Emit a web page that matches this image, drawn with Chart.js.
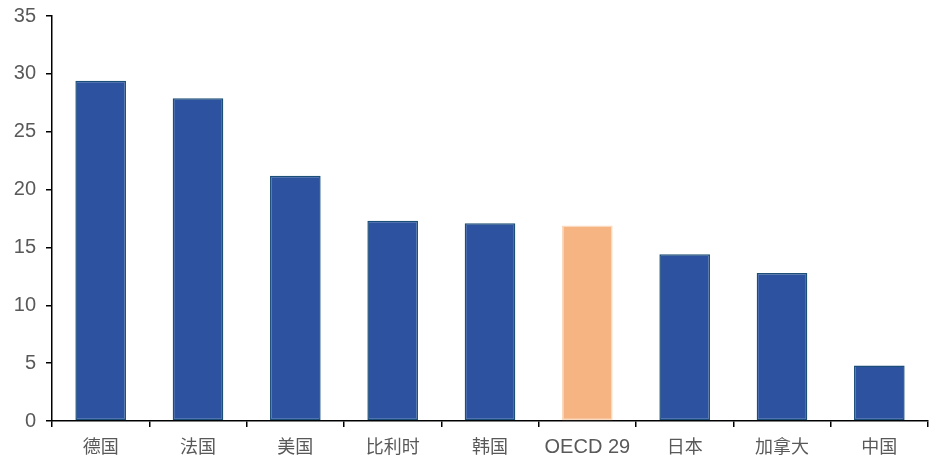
<!DOCTYPE html>
<html>
<head>
<meta charset="utf-8">
<script src="https://cdn.jsdelivr.net/npm/chart.js@4/dist/chart.umd.min.js"></script>
<style>
  html, body { margin: 0; padding: 0; background: #fff; }
  #wrap { width: 930px; height: 459px; position: relative; }
</style>
</head>
<body>
<div id="wrap"><canvas id="c"></canvas></div>
<script>
// Categories and values
const categories = ['德国', '法国', '美国', '比利时', '韩国', 'OECD 29', '日本', '加拿大', '中国'];
const values = [29.4, 27.9, 21.2, 17.3, 17.1, 16.9, 14.4, 12.8, 4.8];
const yTicks = [0, 5, 10, 15, 20, 25, 30, 35];
const highlight = 'OECD 29';

const fillColors = categories.map(c => c === highlight ? '#F5B482' : '#2D53A0');
const edgeColors = categories.map(c => c === highlight ? '#FAD9BE' : '#1B4E78');

new Chart(document.getElementById('c'), {
  type: 'bar',
  data: {
    labels: categories,
    datasets: [{
      data: values,
      backgroundColor: fillColors,
      borderColor: edgeColors,
      borderWidth: 1.5,
      borderSkipped: false,
      barPercentage: 0.52,
      categoryPercentage: 1.0
    }]
  },
  options: {
    responsive: true,
    maintainAspectRatio: false,
    animation: false,
    layout: { padding: { top: 16, right: 2, left: 0, bottom: 0 } },
    plugins: { legend: { display: false }, tooltip: { enabled: false } },
    scales: {
      x: {
        grid: { display: true, drawOnChartArea: false, drawTicks: true, tickLength: 6, color: '#000', lineWidth: 1.5, offset: true },
        border: { display: true, color: '#000', width: 1.5 },
        ticks: {
          color: '#595959',
          padding: 8,
          font: (ctx) => categories[ctx.index] === highlight
            ? { family: '"Liberation Sans", Arial, sans-serif', size: 20 }
            : { family: '"Noto Sans CJK SC", sans-serif', size: 18 }
        },
        afterFit: (s) => { s.height = 38; s.paddingLeft = 0; s.paddingRight = 0; }
      },
      y: {
        min: 0,
        max: 35,
        afterBuildTicks: (s) => { s.ticks = yTicks.map(v => ({ value: v })); },
        grid: { display: true, drawOnChartArea: false, drawTicks: true, tickLength: 6, color: '#000', lineWidth: 1.5 },
        border: { display: true, color: '#000', width: 1.5 },
        ticks: {
          color: '#595959',
          padding: 10,
          font: { family: '"Liberation Sans", Arial, sans-serif', size: 20 }
        },
        afterFit: (s) => { s.width = 52; s.paddingTop = 0; s.paddingBottom = 0; }
      }
    }
  }
});
</script>
</body>
</html>
